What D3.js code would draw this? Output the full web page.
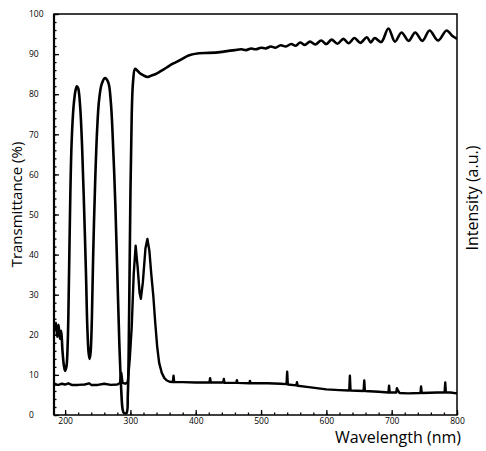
<!DOCTYPE html>
<html><head><meta charset="utf-8">
<script src="https://cdn.jsdelivr.net/npm/d3@7"></script>
<style>body{margin:0;background:#fff}svg{display:block}text{font-family:"Open Sans",sans-serif;fill:#000}</style>
</head><body>
<script>
// Data (wavelength nm, value)
const transmittance = [
[184,21],[186,23],[188,19.5],[190,22.5],[192,19],[194,21],[196,16],[198,12.5],[200,11],[202,12],[204,18],[206,35],[208,55],[210,68],[213,77],[216,81],[218,82],[220,81.5],[223,77],[226,67],[229,52],[232,35],[234,22],[236,15.5],[237.5,14],[239,15.5],[241,24],[243,40],[246,58],[249,71],[252,78.5],[256,82.5],[261,84],[266,83],[270,78],[274,65],[277,52],[280,35],[283,18],[286,6],[288,1.5],[290,0.5],[294,0.5],[296,5],[298,25],[300,55],[302,75],[304,83],[307,86.3],[310,86],[314,85.3],[320,84.7],[326,84.3],[330,84.5],[337,84.9],[345,85.6],[355,86.6],[365,87.6],[376,88.5],[390,89.7],[405,90.2],[420,90.3],[437,90.5],[450,90.8],[460,91.0],[470,91.2],[477,91.0],[485,91.4],[492,91.2],[500,91.6],[507,91.4],[515,91.9],[522,91.6],[530,92.2],[538,91.9],[546,92.5],[553,92.1],[560,92.9],[567,92.3],[575,93.1],[583,92.4],[592,93.4],[600,92.5],[608,93.6],[617,92.6],[626,93.8],[634,92.7],[643,94.0],[652,92.8],[662,94.2],[668,92.9],[674,94.0],[684,93.0],[695,96.4],[705,93.1],[715,95.4],[726,93.3],[736,95.4],[747,93.3],[758,95.9],[771,93.4],[784,95.9],[793,94.5],[800,93.8]
];
const intensity = [
[184,7.6],[190,7.5],[195,7.8],[200,7.6],[205,7.9],[210,7.5],[220,7.5],[230,7.6],[237,7.9],[240,7.5],[250,7.5],[260,7.8],[270,7.5],[280,7.6],[284,8],[286,10.5],[288,8],[292,7.8],[296,8.2],[299,14],[302,22],[305,35],[308,42.2],[311,37],[314,30.5],[316,29],[319,33],[323,41.5],[326,43.9],[329,41],[332,35],[335,29.8],[338,23],[341,17],[344,13],[348,10.5],[352,9.2],[356,8.6],[360,8.3],[365,8.2],[366,9.8],[367,8.2],[380,8.2],[400,8.1],[421,8.1],[422,9.2],[423,8.1],[442,8.1],[443,9.0],[444,8.0],[462,8],[463,8.7],[464,8],[482,7.9],[483,8.5],[484,7.9],[510,7.9],[530,7.8],[539,7.7],[540,10.8],[541,7.6],[554,7.4],[555,8.2],[556,7.3],[570,7.0],[600,6.4],[620,6.2],[635,6.1],[636,9.8],[637,6.1],[657,6.0],[658,8.6],[659,6.0],[680,5.8],[695,5.6],[696,7.3],[697,5.6],[707,5.6],[708,6.7],[710,6.0],[712,5.5],[725,5.4],[744,5.5],[745,7.1],[746,5.5],[770,5.6],[781,5.6],[782,8.1],[783,5.6],[790,5.6],[800,5.4]
];
const xTickLabels = [200,300,400,500,600,700,800];
const yTickLabels = [0,10,20,30,40,50,60,70,80,90,100];
const xMinorTicks = d3.range(200, 801, 20);
const yMinorTicks = d3.range(0, 101, 2);

const W = 486, H = 451;
const L = 54, R = 457, T = 14, B = 415;
const svg = d3.select("body").append("svg").attr("width", W).attr("height", H);
const x = d3.scaleLinear().domain([183, 800]).range([L, R]);
const y = d3.scaleLinear().domain([0, 100]).range([B, T]);

svg.append("defs").append("clipPath").attr("id","clip")
  .append("rect").attr("x",L).attr("y",T).attr("width",R-L).attr("height",B-T);

// minor ticks
const gx = svg.append("g").attr("transform",`translate(0,${B})`);
gx.call(d3.axisBottom(x).tickValues(xMinorTicks).tickSize(-2.5).tickFormat(""));
const gx2 = svg.append("g").attr("transform",`translate(0,${B})`);
gx2.call(d3.axisBottom(x).tickValues(xTickLabels).tickSize(-5).tickPadding(8).tickFormat(d3.format("d")));
[gx,gx2].forEach(g=>{g.select(".domain").remove(); g.selectAll("line").attr("stroke","#000").attr("stroke-width",1.3);});
gx2.selectAll("text").style("font-size","8.5px").attr("dy","0.55em").attr("y",4);

const gy = svg.append("g").attr("transform",`translate(${L},0)`);
gy.call(d3.axisLeft(y).tickValues(yMinorTicks).tickSize(-2.5).tickFormat(""));
const gy2 = svg.append("g").attr("transform",`translate(${L},0)`);
gy2.call(d3.axisLeft(y).tickValues(yTickLabels).tickSize(-5).tickFormat(d3.format("d")));
[gy,gy2].forEach(g=>{g.select(".domain").remove(); g.selectAll("line").attr("stroke","#000").attr("stroke-width",1.3);});
gy2.selectAll("text").style("font-size","8.5px").attr("text-anchor","start").attr("x",-25);

// frame
svg.append("rect").attr("x",L).attr("y",T).attr("width",R-L).attr("height",B-T)
  .attr("fill","none").attr("stroke","#000").attr("stroke-width",1.5);
svg.append("line").attr("x1",L).attr("x2",L).attr("y1",T).attr("y2",B).attr("stroke","#000").attr("stroke-width",2.2);

const g = svg.append("g").attr("clip-path","url(#clip)");
g.append("path").datum(intensity).attr("d", d3.line().x(d=>x(d[0])).y(d=>y(d[1])).curve(d3.curveLinear))
  .attr("fill","none").attr("stroke","#000").attr("stroke-width",2.4).attr("stroke-linejoin","round");
g.append("path").datum(transmittance).attr("d", d3.line().x(d=>x(d[0])).y(d=>y(d[1])).curve(d3.curveCatmullRom.alpha(0.5)))
  .attr("fill","none").attr("stroke","#000").attr("stroke-width",2.6).attr("stroke-linejoin","round");

// titles
svg.append("text").attr("transform",`translate(22,${(T+B)/2 - 10}) rotate(-90)`)
  .attr("text-anchor","middle").style("font-size","15px").text("Transmittance (%)");
svg.append("text").attr("transform",`translate(478,198) rotate(-90)`)
  .attr("text-anchor","middle").style("font-size","16px").text("Intensity (a.u.)");
svg.append("text").attr("x",461).attr("y",443).attr("text-anchor","end")
  .style("font-size","16px").text("Wavelength (nm)");
</script>
</body></html>
